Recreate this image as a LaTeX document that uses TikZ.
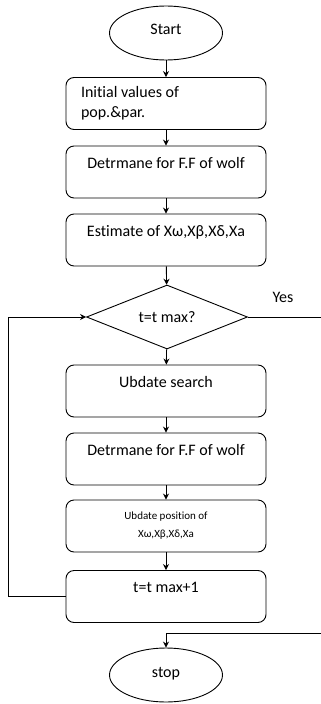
\documentclass[tikz,border=0pt]{standalone}
\usepackage{fontspec}
\setmainfont{Carlito}[Ligatures=NoCommon]
\usetikzlibrary{shapes.geometric,arrows.meta}
\tikzset{
  stepbox/.style={draw, rounded corners=8pt, minimum width=200pt, minimum height=52pt, inner sep=4pt, font=\fontsize{16}{20}\selectfont},
  topbox/.style={stepbox, text height=18pt, text depth=26pt},
  term/.style={draw, ellipse, minimum width=113pt, minimum height=54pt, font=\fontsize{16}{18}\selectfont},
  test/.style={draw, diamond, aspect=2.5, minimum width=161pt, minimum height=64pt, inner sep=0pt, font=\fontsize{16}{18}\selectfont},
  >={Stealth[length=6pt,width=6pt]}
}
\begin{document}
\begin{tikzpicture}[x=1pt,y=-1pt,line width=0.9pt]
\useasboundingbox (0,0) rectangle (321,704);
\node[term, text depth=8pt] (start) at (166,33) {Start};
\node[stepbox, text width=170pt, align=flush left] (init) at (166,103.5) {Initial values of\\pop.\&par.};
\node[topbox] (fit1) at (166,172) {Detrmane for F.F of wolf};
\node[topbox] (est) at (166,240) {Estimate of Xω,Xβ,Xδ,Xa};
\node[test] (cond) at (167,317) {t=t max?};
\node at (283,297) {\fontsize{16}{18}\selectfont Yes};
\node[topbox] (srch) at (166,391) {Ubdate search};
\node[topbox] (fit2) at (166,459) {Detrmane for F.F of wolf};
\node[stepbox, font=\fontsize{11}{18}\selectfont, align=center] (pos) at (166,526) {Ubdate position of\\Xω,Xβ,Xδ,Xa};
\node[topbox] (incr) at (166,596.5) {t=t max+1};
\node[term, text depth=6pt] (stop) at (166,675) {stop};
\coordinate (loop) at (8,317);
\coordinate (yes) at (321,317);
\coordinate (back) at (321,633);
% main flow
\draw[->] (start) -- (init);
\draw[->] (init) -- (fit1);
\draw[->] (fit1) -- (est);
\draw[->] (est) -- (cond);
\draw[->] (cond) -- (srch);
\draw[->] (srch) -- (fit2);
\draw[->] (fit2) -- (pos);
\draw[->] (pos) -- (incr);
% loop back and exit
\draw[->] (incr.west) -| (loop) -- (cond.west);
\draw (cond.east) -- (yes);
\draw[->] (back) -| (stop.north);
\end{tikzpicture}
\end{document}
